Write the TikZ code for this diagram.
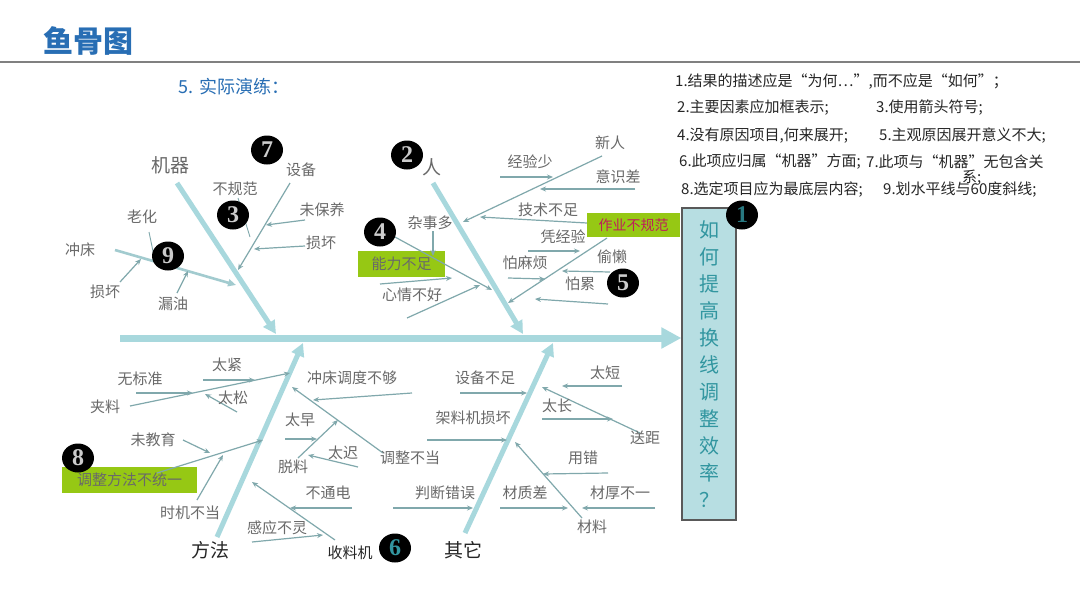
\documentclass[tikz,border=0pt]{standalone}
\usepackage{fontspec}
\setmainfont{Noto Sans CJK SC}
\newfontfamily\numfont{Liberation Serif}
\usepackage{xcolor}
\usetikzlibrary{shapes.geometric, positioning, arrows.meta}

\definecolor{bonecyan}{RGB}{168,216,221}
\definecolor{twiggray}{RGB}{128,168,172}
\definecolor{labelgray}{RGB}{105,105,105}
\definecolor{titleblue}{RGB}{40,110,180}
\definecolor{headcyan}{RGB}{183,222,226}
\definecolor{headtext}{RGB}{50,150,160}
\definecolor{causegreen}{RGB}{150,200,20}
\definecolor{causered}{RGB}{190,30,90}

\begin{document}
\begin{tikzpicture}[x=1pt, y=-1pt,
    bone/.style={bonecyan, line width=5pt, -{Triangle[length=13pt,width=13pt]}},
    spine/.style={bonecyan, line width=7pt, -{Triangle[length=20pt,width=20pt]}},
    subbone/.style={bonecyan!85!gray, line width=2.6pt, -{Triangle[length=8pt,width=7pt]}},
    twig/.style={twiggray, line width=1.2pt, -{Stealth[length=6pt,width=5pt]}},
    leader/.style={twiggray, line width=0.9pt},
    lbl/.style={text=labelgray, font=\fontsize{15}{17}\selectfont, inner sep=1pt},
    darklbl/.style={text=black!85, font=\fontsize{15}{17}\selectfont, inner sep=1pt},
    bonelbl/.style={text=labelgray, font=\fontsize{19}{21}\selectfont, inner sep=1pt},
    numc/.style={ellipse, fill=black, minimum width=32pt, minimum height=29pt, inner sep=0pt,
      text=black!20, font=\numfont\fontsize{24}{24}\selectfont\bfseries},
    causebox/.style={fill=causegreen, inner sep=0pt, text=labelgray, font=\fontsize{15}{17}\selectfont},
    note/.style={anchor=west, inner sep=0pt, text=black!85, font=\fontsize{15}{17}\selectfont}]

  \fill[white] (0,0) rectangle (1080,608);
  \useasboundingbox (0,0) rectangle (1080,608);

  % title and notes
  \node[text=titleblue, font=\fontsize{30}{32}\selectfont\bfseries] (title) at (88,41) {鱼骨图};
  \draw[black!50, line width=2pt] (0,62) -- (1080,62);
  \node[text=titleblue, font=\fontsize{18}{20}\selectfont] (sub) at (234,87) {5. 实际演练：};

  \node[note] (n1) at (675,82) {1.结果的描述应是“为何…”,而不应是“如何”；};
  \node[note] (n2) at (677,108) {2.主要因素应加框表示;};
  \node[note] (n3) at (876,108) {3.使用箭头符号;};
  \node[note] (n4) at (677,136) {4.没有原因项目,何来展开;};
  \node[note] (n5) at (879,136) {5.主观原因展开意义不大;};
  \node[note] (n6) at (679,162) {6.此项应归属“机器”方面;};
  \node[note] (n7) at (866,162) {7.此项与“机器”无包含关};
  \node[note] (n8) at (681,190) {8.选定项目应为最底层内容;};
  \node[note] (n9) at (883,190) {9.划水平线与60度斜线;};
  \node[note] (n7b) at (962,178) {系;};

  % head and spine
  \node[draw=black!65, line width=1.2pt, fill=headcyan, minimum width=54pt, minimum height=312pt,
    inner sep=0pt, align=center, text=headtext, font=\fontsize{20}{27}\selectfont]
    (head) at (709,364) {如\\何\\提\\高\\换\\线\\调\\整\\效\\率\\？};
  \coordinate (tail) at (120,338);
  \draw[spine] (tail) -- (tail -| head.west);

  % big bones
  \coordinate (m0) at (177,183); \coordinate (m1) at (276,334);
  \coordinate (p0) at (433,183); \coordinate (p1) at (523,334);
  \coordinate (f0) at (217,537); \coordinate (f1) at (303,343);
  \coordinate (o0) at (465,533); \coordinate (o1) at (553,343);
  \draw[bone] (m0) -- (m1);
  \draw[bone] (p0) -- (p1);
  \draw[bone] (f0) -- (f1);
  \draw[bone] (o0) -- (o1);

  % green boxes
  \node[causebox, minimum width=87pt, minimum height=26pt] (nlbz) at (401.5,264) {能力不足};
  \node[causebox, minimum width=93pt, minimum height=24pt, text=causered,
    font=\fontsize{14}{16}\selectfont] (zybgf) at (633.5,225) {作业不规范};
  \node[causebox, minimum width=135pt, minimum height=26pt] (tzff) at (129.5,480) {调整方法不统一};

  % machine
  \path (115,250) coordinate (cc0)  (236,285) coordinate (cc1)
        (149,232) coordinate (lh0)  (154,256) coordinate (lh1)
        (120,282) coordinate (sh10) (141,259) coordinate (sh11)
        (177,293) coordinate (ly0)  (188,271) coordinate (ly1)
        (290,183) coordinate (sb0)  (238,270) coordinate (sb1)
        (305,220) coordinate (wby0) (266,225) coordinate (wby1)
        (305,246) coordinate (sh20) (254,249) coordinate (sh21)
        (238,198) coordinate (bgf0) (250,237) coordinate (bgf1);
  \draw[subbone] (cc0) -- (cc1);
  \draw[leader] (lh0) -- (lh1);
  \draw[twig] (sh10) -- (sh11);
  \draw[twig] (ly0) -- (ly1);
  \draw[twig] (sb0) -- (sb1);
  \draw[twig] (wby0) -- (wby1);
  \draw[twig] (sh20) -- (sh21);
  \draw[leader] (bgf0) -- (bgf1);

  \node[bonelbl] (jq) at (170,165) {机器};
  \node[lbl] (cc) at (80,250) {冲床};
  \node[lbl] (lh) at (142,217) {老化};
  \node[lbl] (sh1) at (105,292) {损坏};
  \node[lbl] (ly) at (173,304) {漏油};
  \node[lbl] (sb) at (301,170) {设备};
  \node[lbl] (bgf) at (235,189) {不规范};
  \node[lbl] (wby) at (322,210) {未保养};
  \node[lbl] (sh2) at (321,243) {损坏};

  % person
  \path (602,156) coordinate (xr0)  (463,222) coordinate (xr1)
        (500,177) coordinate (jy0)  (553,177) coordinate (jy1)
        (635,189) coordinate (ys0)  (540,189) coordinate (ys1)
        (587,223) coordinate (js0)  (480,217) coordinate (js1)
        (528,251) coordinate (pj0)  (580,251) coordinate (pj1)
        (607,238) coordinate (zy0)  (508,303) coordinate (zy1)
        (610,272) coordinate (tl0)  (562,271) coordinate (tl1)
        (508,278) coordinate (pm0)  (545,279) coordinate (pm1)
        (608,304) coordinate (pl0)  (535,299) coordinate (pl1)
        (380,284) coordinate (nl0)  (452,278) coordinate (nl1)
        (407,318) coordinate (xq0)  (480,285) coordinate (xq1)
        (395,237) coordinate (c4a)  (492,290) coordinate (c4b)
        (433,231) coordinate (zs0)  (433,256) coordinate (zs1);
  \draw[twig] (xr0) -- (xr1);
  \draw[twig] (jy0) -- (jy1);
  \draw[twig] (ys0) -- (ys1);
  \draw[twig] (js0) -- (js1);
  \draw[twig] (pj0) -- (pj1);
  \draw[twig] (zy0) -- (zy1);
  \draw[twig] (tl0) -- (tl1);
  \draw[twig] (pm0) -- (pm1);
  \draw[twig] (pl0) -- (pl1);
  \draw[twig] (nl0) -- (nl1);
  \draw[twig] (xq0) -- (xq1);
  \draw[twig] (c4a) -- (c4b);
  \draw[twig] (zs0) -- (zs1);

  \node[bonelbl] (ren) at (432,167) {人};
  \node[lbl] (xr) at (610,143) {新人};
  \node[lbl] (jy) at (530,162) {经验少};
  \node[lbl] (ys) at (618,177) {意识差};
  \node[lbl] (js) at (548,210) {技术不足};
  \node[lbl] (zs) at (430,223) {杂事多};
  \node[lbl] (pj) at (563,237) {凭经验};
  \node[lbl] (tl) at (612,257) {偷懒};
  \node[lbl] (pm) at (525,263) {怕麻烦};
  \node[lbl] (pl) at (580,284) {怕累};
  \node[lbl] (xq) at (412,295) {心情不好};

  % method
  \path (136,393) coordinate (wb0)   (193,393) coordinate (wb1)
        (130,406) coordinate (jl0)   (290,373) coordinate (jl1)
        (203,380) coordinate (tj0)   (255,380) coordinate (tj1)
        (237,412) coordinate (ts0)   (205,394) coordinate (ts1)
        (183,440) coordinate (wj0)   (210,453) coordinate (wj1)
        (157,473) coordinate (tz0)   (263,440) coordinate (tz1)
        (197,500) coordinate (sj0)   (223,455) coordinate (sj1)
        (412,393) coordinate (cd0)   (313,400) coordinate (cd1)
        (383,453) coordinate (td0)   (292,387) coordinate (td1)
        (285,439) coordinate (tzao0) (317,439) coordinate (tzao1)
        (298,458) coordinate (tlo0)  (338,420) coordinate (tlo1)
        (358,467) coordinate (tc0)   (308,455) coordinate (tc1)
        (352,508) coordinate (bt0)   (290,508) coordinate (bt1)
        (252,542) coordinate (gy0)   (323,535) coordinate (gy1)
        (335,540) coordinate (sl0)   (252,482) coordinate (sl1)
        (393,508) coordinate (pd0)   (473,508) coordinate (pd1);
  \draw[twig] (wb0) -- (wb1);
  \draw[twig] (jl0) -- (jl1);
  \draw[twig] (tj0) -- (tj1);
  \draw[twig] (ts0) -- (ts1);
  \draw[twig] (wj0) -- (wj1);
  \draw[twig] (tz0) -- (tz1);
  \draw[twig] (sj0) -- (sj1);
  \draw[twig] (cd0) -- (cd1);
  \draw[twig] (td0) -- (td1);
  \draw[twig] (tzao0) -- (tzao1);
  \draw[twig] (tlo0) -- (tlo1);
  \draw[twig] (tc0) -- (tc1);
  \draw[twig] (bt0) -- (bt1);
  \draw[twig] (gy0) -- (gy1);
  \draw[twig] (sl0) -- (sl1);
  \draw[twig] (pd0) -- (pd1);

  \node[bonelbl, text=black!85] (ff) at (210,550) {方法};
  \node[lbl] (wb) at (140,379) {无标准};
  \node[lbl] (jl) at (105,407) {夹料};
  \node[lbl] (tj) at (227,365) {太紧};
  \node[lbl] (ts) at (233,398) {太松};
  \node[lbl] (wj) at (153,440) {未教育};
  \node[lbl] (sj) at (190,513) {时机不当};
  \node[lbl] (cd) at (352,378) {冲床调度不够};
  \node[lbl] (td) at (410,458) {调整不当};
  \node[lbl] (tzao) at (300,420) {太早};
  \node[lbl] (tlo) at (293,467) {脱料};
  \node[lbl] (tc) at (343,453) {太迟};
  \node[lbl] (bt) at (328,493) {不通电};
  \node[lbl] (gy) at (277,528) {感应不灵};
  \node[darklbl] (sl) at (350,553) {收料机};
  \node[lbl] (pd) at (445,493) {判断错误};

  % other
  \path (460,393) coordinate (sbz0)    (527,393) coordinate (sbz1)
        (622,386) coordinate (tduan0)  (562,386) coordinate (tduan1)
        (542,419) coordinate (tchang0) (613,419) coordinate (tchang1)
        (640,433) coordinate (sju0)    (542,387) coordinate (sju1)
        (427,440) coordinate (jlj0)    (507,440) coordinate (jlj1)
        (608,473) coordinate (yc0)     (543,474) coordinate (yc1)
        (500,508) coordinate (czc0)    (568,508) coordinate (czc1)
        (655,508) coordinate (chb0)    (582,508) coordinate (chb1)
        (582,518) coordinate (cl0)     (515,442) coordinate (cl1);
  \draw[twig] (sbz0) -- (sbz1);
  \draw[twig] (tduan0) -- (tduan1);
  \draw[twig] (tchang0) -- (tchang1);
  \draw[twig] (sju0) -- (sju1);
  \draw[twig] (jlj0) -- (jlj1);
  \draw[twig] (yc0) -- (yc1);
  \draw[twig] (czc0) -- (czc1);
  \draw[twig] (chb0) -- (chb1);
  \draw[twig] (cl0) -- (cl1);

  \node[bonelbl, text=black!85] (qt) at (463,550) {其它};
  \node[lbl] (sbz) at (485,378) {设备不足};
  \node[lbl] (tduan) at (605,373) {太短};
  \node[lbl] (tchang) at (557,406) {太长};
  \node[lbl] (sju) at (645,438) {送距};
  \node[lbl] (jlj) at (473,418) {架料机损坏};
  \node[lbl] (yc) at (583,458) {用错};
  \node[lbl] (czc) at (525,493) {材质差};
  \node[lbl] (chb) at (620,493) {材厚不一};
  \node[lbl] (cl) at (592,527) {材料};

  % numbered marks
  \node[numc, text=headtext!80!black] (c1) at (742,215) {1};
  \node[numc] (c2) at (407,155) {2};
  \node[numc] (c3) at (233,215) {3};
  \node[numc] (c4) at (380,232) {4};
  \node[numc] (c5) at (623,283) {5};
  \node[numc, text=headtext] (c6) at (395,548) {6};
  \node[numc] (c7) at (267,150) {7};
  \node[numc] (c8) at (78,458) {8};
  \node[numc] (c9) at (168,256) {9};

\end{tikzpicture}
\end{document}
